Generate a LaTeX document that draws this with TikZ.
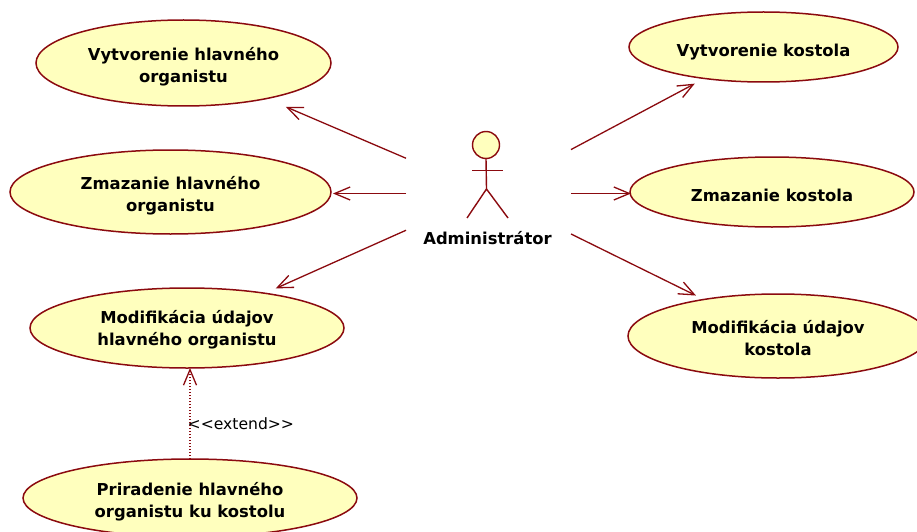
\documentclass[tikz,border=0pt]{standalone}
\usepackage{fontspec}
\setmainfont{DejaVu Sans}
\usetikzlibrary{shapes.geometric,arrows.meta}
\definecolor{umlline}{HTML}{8B0A0F}
\definecolor{umlfill}{HTML}{FFFFBE}
\tikzset{
  caseshape/.style={ellipse,draw=umlline,fill=umlfill,line width=1.5pt,inner sep=0pt,outer sep=0pt},
  casebox/.style={rectangle,inner sep=0pt,outer sep=0pt},
  casetext/.style={inner sep=0pt,outer sep=0pt,align=center,font=\fontsize{16.4}{22}\selectfont\bfseries},
  assoc/.style={draw=umlline,line width=1.3pt,-{Straight Barb[length=15.5pt,width=13pt,line width=1.3pt]}},
  ext/.style={draw=umlline,line width=1.3pt,dash pattern=on 1.5pt off 1.5pt,-{Straight Barb[length=15.5pt,width=13pt,line width=1.3pt]}},
  actorline/.style={draw=umlline,line width=1.4pt}
}
% name, x, y, width, height, text, text drop
\newcommand{\usecase}[7]{%
  \node[caseshape,minimum width=#4pt,minimum height=#5pt] (#1e) at (#2,#3) {};
  \node[casebox,minimum width=#4pt,minimum height=#5pt] (#1) at (#2,#3) {};
  \node[casetext,yshift=-#7pt] (#1t) at (#2,#3) {#6};
}
\begin{document}
\begin{tikzpicture}[x=1pt,y=-1pt]
\useasboundingbox (0,0) rectangle (917,532);
\clip (0,0) rectangle (917,532);
\fill[white] (0,0) rectangle (917,532);
\usecase{A}{183.5}{63}{295}{86}{Vytvorenie hlavného\\organistu}{3.5}
\usecase{B}{170.5}{192}{321}{84}{Zmazanie hlavného\\organistu}{4}
\usecase{C}{187}{328}{314}{80}{Modifikácia údajov\\hlavného organistu}{2}
\usecase{D}{190}{498}{334}{78}{Priradenie hlavného\\organistu ku kostolu}{4}
\usecase{E}{763.5}{47}{269}{70}{Vytvorenie kostola}{5}
\usecase{F}{772}{192}{284}{70}{Zmazanie kostola}{3}
\usecase{G}{778}{336}{300}{84}{Modifikácia údajov\\kostola}{2}
% actor
\node[minimum width=165pt,minimum height=124pt,inner sep=0pt,outer sep=0pt] (actor) at (488.5,193.5) {};
\node[circle,draw=umlline,fill=umlfill,line width=1.4pt,minimum size=27pt,inner sep=0pt,outer sep=0pt] (head) at (486,145) {};
\coordinate (hip) at (486.5,189);
\coordinate (armL) at (472,170.5);
\coordinate (armR) at (503,170.5);
\coordinate (legL) at (467,218);
\coordinate (legR) at (508,218);
\draw[actorline] (head.south) -- (hip);
\draw[actorline] (armL) -- (armR);
\draw[actorline] (legL) -- (hip) -- (legR);
\node[font=\fontsize{16.4}{22}\selectfont\bfseries,inner sep=0pt] (alabel) at (487.5,238) {Administrátor};
% connectors
\draw[assoc,shorten >=2pt] (actor) -- (A);
\draw[assoc,shorten >=2pt] (actor.west) -- (actor.west -| B.east);
\draw[assoc,shorten >=-1pt] (actor) -- (C);
\draw[assoc,shorten >=3.5pt] (actor) -- (E);
\draw[assoc,shorten >=-1pt] (actor.east) -- (actor.east -| F.west);
\draw[assoc,shorten >=-3.5pt] (actor) -- (G);
\draw[ext] (D.north) -- (D.north |- C.south);
\node[anchor=west,inner sep=0pt,font=\fontsize{15.6}{20}\selectfont] (extlabel) at (187.5,424) {<{}<extend>{}>};
\end{tikzpicture}
\end{document}
